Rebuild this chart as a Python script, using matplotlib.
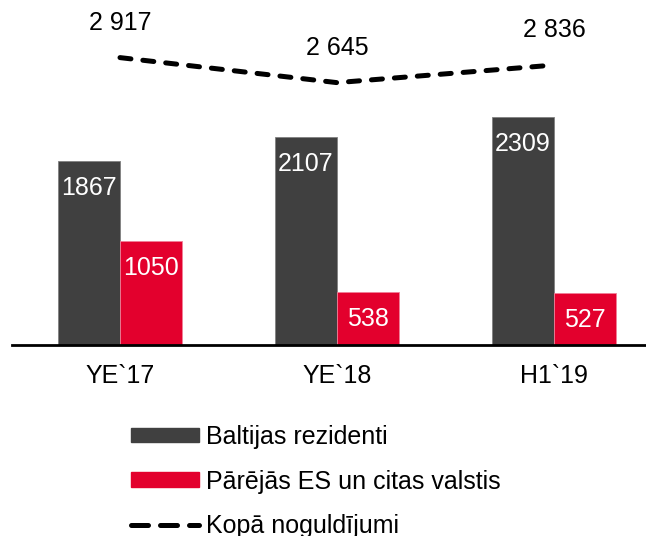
import numpy as np
import matplotlib
matplotlib.use("Agg")
from matplotlib import pyplot as plt
from matplotlib.lines import Line2D
from matplotlib.patches import Patch

plt.rcParams['font.family'] = ['Liberation Sans', 'DejaVu Sans']

periods = ["YE`17", "YE`18", "H1`19"]
baltic = [1867, 2107, 2309]
other = [1050, 538, 527]
total = [2917, 2645, 2836]
total_labels = ["2 917", "2 645", "2 836"]
series_names = ["Baltijas rezidenti", "Pārējās ES un citas valstis", "Kopā noguldījumi"]

dark = '#404040'
red = '#e3002d'
fs = 18

fig = plt.figure(figsize=(6.46, 5.36), dpi=100)
# axes: left edge at x=12 px, baseline at y=345 px (from top)
ax = fig.add_axes([12 / 646, (536 - 345) / 536, 634 / 646, 345 / 536])

x = np.arange(len(periods))
w = 62 / 217
b1 = ax.bar(x - w / 2, baltic, w, color=dark, edgecolor='#808080', linewidth=0.6)
b2 = ax.bar(x + w / 2, other, w, color=red, edgecolor='#f08098', linewidth=0.6)

for bars, vals in ((b1, baltic), (b2, other)):
    for r, v in zip(bars, vals):
        ax.annotate(str(v), (r.get_x() + r.get_width() / 2, r.get_height()),
                    xytext=(0, -27), textcoords='offset pixels',
                    ha='center', va='center', color='white', fontsize=fs)

ax.set_xlim(-108 / 217, 526 / 217)
ax.set_ylim(0, 345 / 0.0986)
ax.set_yticks([])
ax.set_xticks(x)
ax.set_xticklabels(periods, fontsize=fs)
ax.tick_params(axis='x', length=0, pad=14)
for s in ('top', 'right', 'left'):
    ax.spines[s].set_visible(False)
ax.spines['bottom'].set_linewidth(2)
ax.patch.set_visible(False)

# total deposits on its own scale
ax2 = ax.twinx()
ax2.set_ylim(-206, 3543)
ax2.axis('off')
ax2.plot(x, total, color='black', linewidth=3.6, dash_capstyle='round',
         dashes=(2.2, 2.4))
for xi, v, lab in zip(x, total, total_labels):
    ax2.annotate(lab, (xi, v), xytext=(0, 35), textcoords='offset pixels',
                 ha='center', va='center', fontsize=fs)

handles = [Patch(facecolor=dark, edgecolor=dark),
           Patch(facecolor=red, edgecolor=red),
           Line2D([], [], color='black', linewidth=3.6, dash_capstyle='round',
                  dashes=(3.4, 2.4))]
fig.legend(handles, series_names, loc='upper left',
           bbox_to_anchor=(131 / 646, (536 - 425) / 536), frameon=False,
           fontsize=fs, handlelength=2.7, handleheight=0.52,
           handletextpad=0.28, labelspacing=0.82, borderpad=0, borderaxespad=0)

fig.savefig("out.png", dpi=100)
